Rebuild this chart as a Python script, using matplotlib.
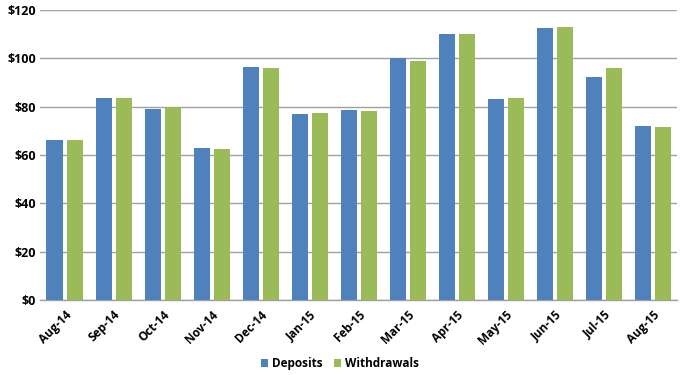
import matplotlib
matplotlib.use("Agg")
import matplotlib.pyplot as plt
import numpy as np

months = ["Aug-14", "Sep-14", "Oct-14", "Nov-14", "Dec-14", "Jan-15", "Feb-15",
          "Mar-15", "Apr-15", "May-15", "Jun-15", "Jul-15", "Aug-15"]
deposits = [66.1, 83.4, 79.2, 62.9, 96.6, 77.0, 78.5, 100.1, 110.0, 83.1, 112.5, 92.3, 71.8]
withdrawals = [66.2, 83.4, 79.9, 62.5, 96.2, 77.4, 78.3, 99.1, 110.0, 83.5, 113.0, 96.1, 71.5]
yticks = [0, 20, 40, 60, 80, 100, 120]

plt.rcParams['font.family'] = ['Open Sans', 'DejaVu Sans']

fig = plt.figure(figsize=(6.8, 3.75), dpi=100)
ax = fig.add_axes([0.059, 0.2, 0.937, 0.7733])

x = np.arange(len(months))
w = 0.33
ax.bar(x - 0.205, deposits, w, color='#4F81BD', label='Deposits', zorder=3)
ax.bar(x + 0.205, withdrawals, w, color='#9BBB59', label='Withdrawals', zorder=3)

ax.set_xlim(-0.5, len(months) - 0.5)
ax.set_ylim(0, 120)
ax.set_yticks(yticks)
ax.set_yticklabels([f"${v}" for v in yticks], fontsize=9, fontweight='bold')
ax.set_xticks(x)
ax.set_xticklabels(months, rotation=45, ha='right', rotation_mode='anchor',
                   fontsize=8.5, fontweight='bold')
ax.tick_params(axis='both', length=0, pad=3)
ax.tick_params(axis='x', pad=6)

ax.grid(axis='y', color='#A0A0A0', linewidth=1, zorder=0)
for s in ['top', 'right', 'left']:
    ax.spines[s].set_visible(False)
ax.spines['bottom'].set_color('#A0A0A0')
ax.spines['bottom'].set_linewidth(1)

leg = fig.legend(loc='lower center', bbox_to_anchor=(0.5, -0.015), ncol=2, frameon=False,
                 prop={'size': 8.5, 'weight': 'bold'}, handlelength=0.6, handleheight=0.6,
                 handletextpad=0.3, columnspacing=1.0)

fig.savefig("out.png", dpi=100)
